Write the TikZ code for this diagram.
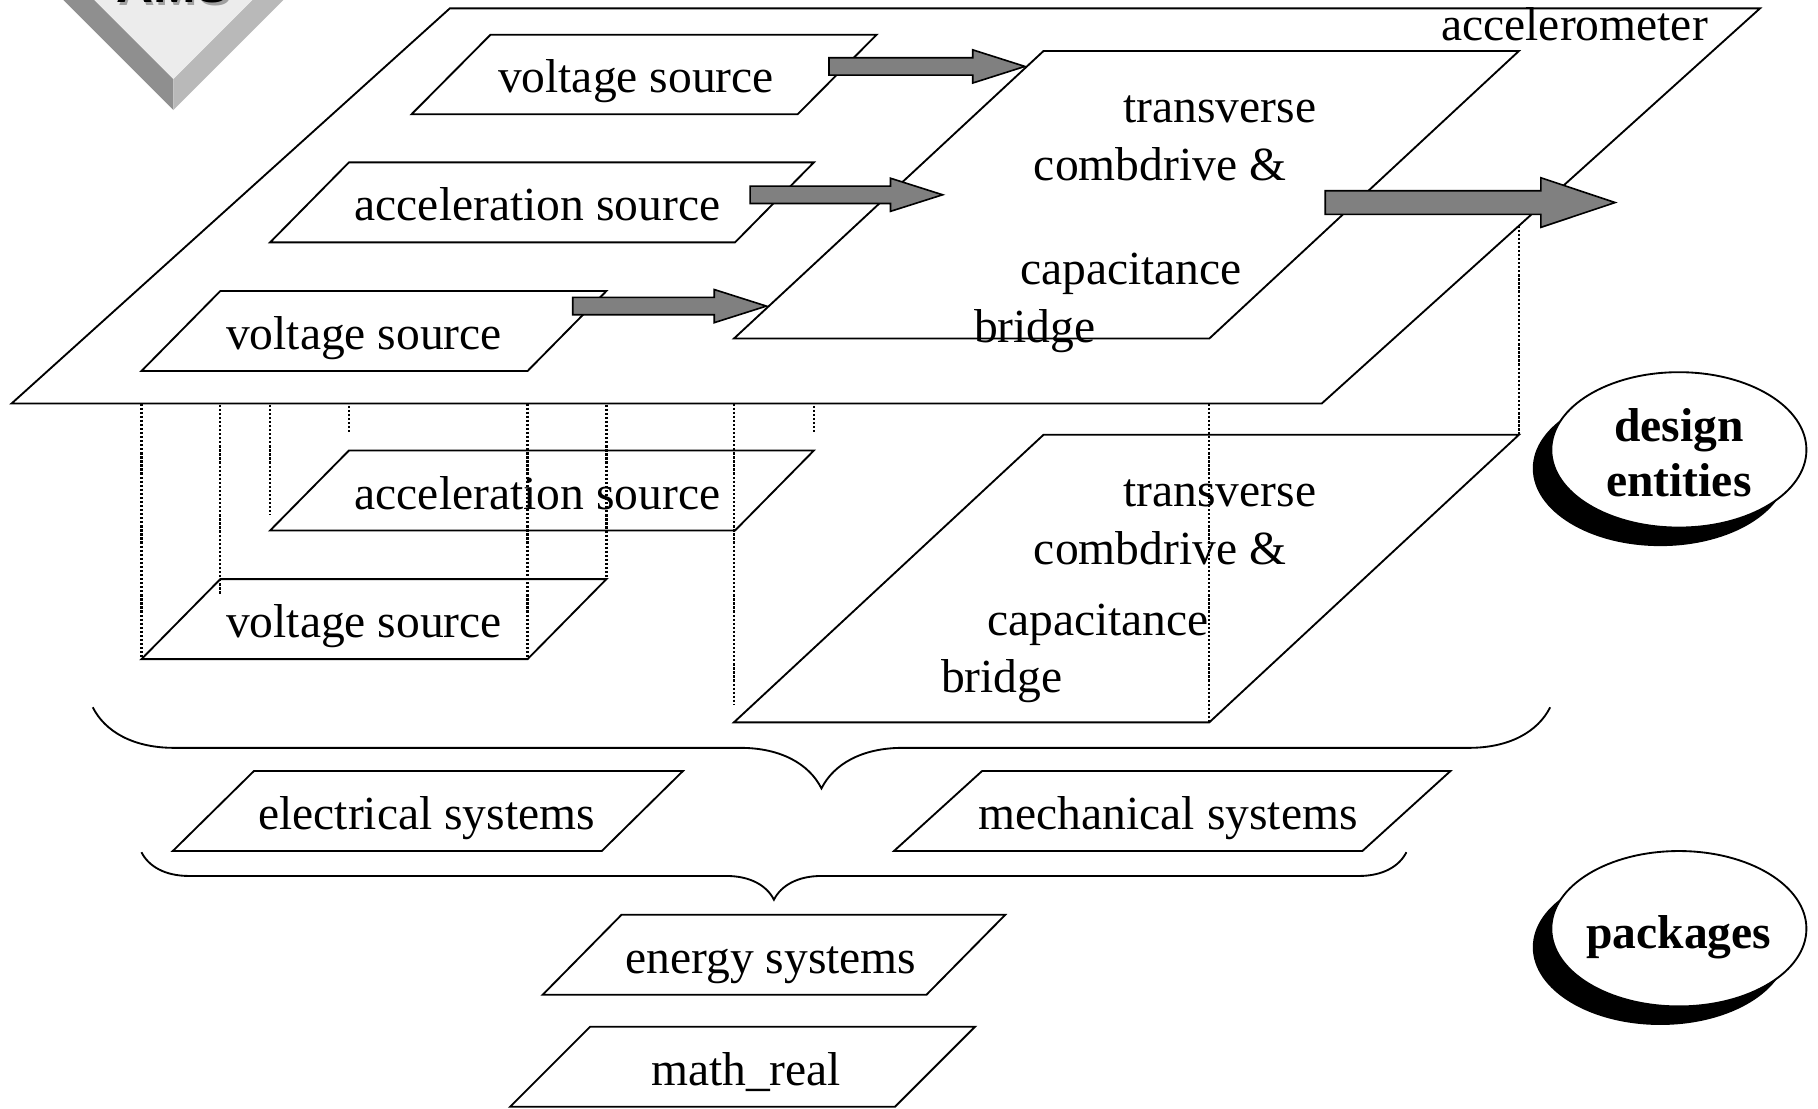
\documentclass[tikz,border=0pt]{standalone}
\usepackage{fontspec}
\setmainfont{Liberation Serif}
\newfontfamily\logofont{Liberation Sans}
\usetikzlibrary{calc,decorations.pathreplacing,shapes.geometric,shadows}
\definecolor{ArrowGray}{HTML}{808080}
\definecolor{LogoFace}{HTML}{ECECEC}
\definecolor{LogoDark}{HTML}{8F8F8F}
\definecolor{LogoLight}{HTML}{B9B9B9}
\definecolor{LogoShade}{HTML}{A0A0A0}
\tikzset{
  slabline/.style={draw=black, fill=white, line width=1.6pt, line join=miter},
  slabtext/.style={anchor=base, inner sep=0pt, yshift=-3pt, font=\fontsize{41}{48}\selectfont},
  projline/.style={line width=2pt, dash pattern=on 2pt off 1.5pt},
  fatarrow/.style={draw=black, fill=ArrowGray, line width=1.4pt, line join=miter},
  groupbrace/.style={decorate, decoration={brace, amplitude=#1}, line width=1.6pt},
  tagoval/.style={ellipse, draw=black, fill=white, line width=1.6pt, inner sep=0pt,
    minimum width=220pt, minimum height=134pt,
    drop shadow={shadow xshift=-16pt, shadow yshift=-16pt, fill=black, opacity=1}},
  ovaltext/.style={anchor=base, inner sep=0pt, font=\bfseries\fontsize{41}{48}\selectfont},
  logotext/.style={anchor=base, inner sep=0pt, font=\logofont\bfseries\fontsize{44}{44}\selectfont}
}
% corners of a sheared slab: name, left x, bottom y, width, height, shear
\newcommand{\slabpts}[6]{%
  \path (#2,#3) coordinate (#1-bl) ++(#4,0) coordinate (#1-br)
    ++(#6,-#5) coordinate (#1-tr) ++(-#4,0) coordinate (#1-tl);}
\newcommand{\slab}[1]{\draw[slabline] (#1-bl) -- (#1-br) -- (#1-tr) -- (#1-tl) -- cycle;}
% block arrow: tail, tip, shaft half width, head half width, head length
\newcommand{\blockarrow}[5]{%
  \draw[fatarrow] ($(#1)+(0,-#3)$) -- ($(#2)+(-#5,-#3)$) -- ($(#2)+(-#5,-#4)$)
    -- (#2) -- ($(#2)+(-#5,#4)$) -- ($(#2)+(-#5,#3)$) -- ($(#1)+(0,#3)$) -- cycle;}

\begin{document}
\begin{tikzpicture}[x=1pt,y=-1pt]
  \useasboundingbox (0,0) rectangle (1568,956);
  \clip (0,0) rectangle (1568,956);

  % logo in the corner
  \fill[LogoDark] (14.6,-40) -- (149.5,94.9) -- (149.5,68.1) -- (41.4,-40) -- cycle;
  \fill[LogoLight] (284.4,-40) -- (149.5,94.9) -- (149.5,68.1) -- (257.6,-40) -- cycle;
  \fill[LogoFace] (41.4,-40) -- (149.5,68.1) -- (257.6,-40) -- cycle;
  \node[logotext, text=LogoShade] (amsshade) at (151.5,5) {AMS};
  \node[logotext] (ams) at (149.5,2.5) {AMS};

  \slabpts{big}{10}{348}{1130}{340.8}{378}
  \slabpts{vsA}{355}{98.5}{333}{68.5}{68}
  \slabpts{accA}{233}{209}{401}{69}{68}
  \slabpts{vsB}{122}{320}{333}{69}{68}
  \slabpts{trA}{633}{292}{410}{248}{267}
  \slabpts{accL}{233}{457.5}{401}{69}{68}
  \slabpts{vsL}{122}{568.5}{333}{69}{68}
  \slabpts{trL}{633}{623}{410}{248}{267}
  \slabpts{elec}{149}{734}{370}{69}{70}
  \slabpts{mech}{771}{734}{404}{69}{76}
  \slabpts{enrg}{468}{858}{331}{69}{68}
  \slabpts{mreal}{440}{954.5}{332}{69}{69}

  % design entities on their own
  \slab{accL} \slab{vsL} \slab{trL}
  \node[slabtext] (accL-txt) at (463.5,436) {acceleration source};
  \node[slabtext] (vsL-txt) at (314,546.5) {voltage source};
  \node[slabtext] (trL-t1) at (1052,434) {transverse};
  \node[slabtext] (trL-t2) at (1000.5,484) {combdrive \&};
  \node[slabtext] (trL-t3) at (947,545) {capacitance};
  \node[slabtext] (trL-t4) at (864,594) {bridge};

  \foreach \up/\dn in {vsB-bl/vsL-bl, vsB-br/vsL-br, vsB-tr/vsL-tr, trA-br/trL-br, trA-tr/trL-tr}
    \draw[projline] (\up) -- (\dn);
  \draw[projline, shorten >=-13.5pt] (vsB-tl) -- (vsL-tl);
  \draw[projline, shorten >=13.5pt] (accA-bl) -- (accL-bl);
  \draw[projline, shorten >=14.5pt] (accA-tl) -- (accL-tl);
  \draw[projline, shorten >=14.5pt] (accA-tr) -- (accL-tr);
  \draw[projline, shorten >=15pt] (trA-bl) -- (trL-bl);

  % the accelerometer
  \slab{big}
  \node[slabtext] (big-txt) at (1358,32) {accelerometer};
  \slab{vsA} \slab{accA} \slab{vsB} \slab{trA}
  \node[slabtext] (vsA-txt) at (548.5,77) {voltage source};
  \node[slabtext] (accA-txt) at (463.5,187.5) {acceleration source};
  \node[slabtext] (vsB-txt) at (314,298.5) {voltage source};
  \node[slabtext] (trA-t1) at (1052,103) {transverse};
  \node[slabtext] (trA-t2) at (1000.5,153) {combdrive \&};
  \node[slabtext] (trA-t3) at (975.5,242) {capacitance};
  \node[slabtext] (trA-t4) at (892.5,292) {bridge};

  \coordinate (a1) at (715,57.3);  \coordinate (a1tip) at (884,57.3);
  \coordinate (a2) at (647,168);   \coordinate (a2tip) at (813,168);
  \coordinate (a3) at (494,264);   \coordinate (a3tip) at (661,264);
  \coordinate (a4) at (1143,174.7); \coordinate (a4tip) at (1393,174.7);
  \blockarrow{a1}{a1tip}{7.5}{14.3}{45}
  \blockarrow{a2}{a2tip}{7.5}{14.3}{45}
  \blockarrow{a3}{a3tip}{7.5}{14.3}{45}
  \blockarrow{a4}{a4tip}{10.2}{21.4}{64}

  % packages
  \draw[groupbrace=70pt] (1337,610) -- (80,610);
  \slab{elec} \slab{mech}
  \node[slabtext] (elec-txt) at (368,712.5) {electrical systems};
  \node[slabtext] (mech-txt) at (1007.5,712.5) {mechanical systems};
  \draw[groupbrace=41pt] (1213,735) -- (122,735);
  \slab{enrg} \slab{mreal}
  \node[slabtext] (enrg-txt) at (665,836.5) {energy systems};
  \node[slabtext] (mreal-txt) at (643.5,933) {math\_real};

  \node[tagoval] (entities) at (1448,388) {};
  \node[ovaltext] (entities-t1) at (1448,380.5) {design};
  \node[ovaltext] (entities-t2) at (1448,428.5) {entities};
  \node[tagoval] (pkgs) at (1448,801) {};
  \node[ovaltext] (pkgs-txt) at (1448,818) {packages};
\end{tikzpicture}
\end{document}
